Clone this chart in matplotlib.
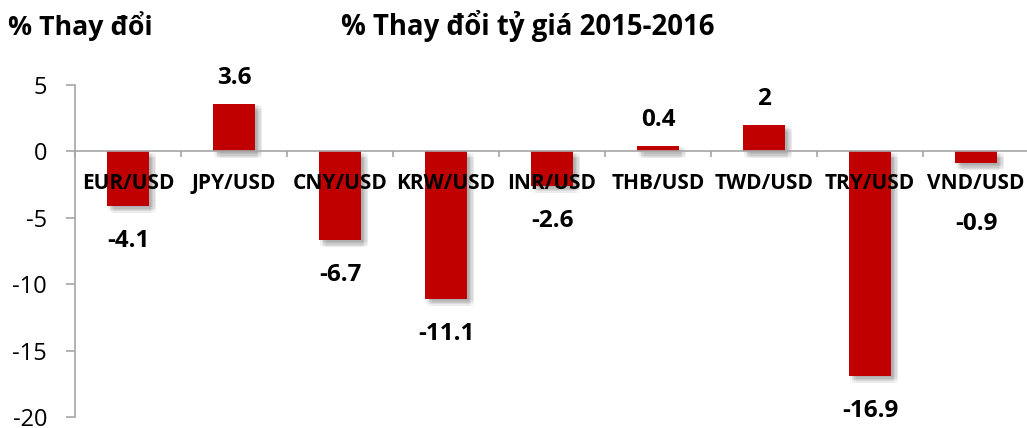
import matplotlib
matplotlib.use("Agg")
import matplotlib.pyplot as plt
import matplotlib.patheffects as pe
from matplotlib.ticker import FixedLocator

categories = ["EUR/USD", "JPY/USD", "CNY/USD", "KRW/USD", "INR/USD",
              "THB/USD", "TWD/USD", "TRY/USD", "VND/USD"]
values = [-4.1, 3.6, -6.7, -11.1, -2.6, 0.4, 2, -16.9, -0.9]
value_labels = ["-4.1", "3.6", "-6.7", "-11.1", "-2.6", "0.4", "2", "-16.9", "-0.9"]
yticks = [5, 0, -5, -10, -15, -20]

plt.rcParams['font.family'] = ['Open Sans', 'DejaVu Sans']

W, H = 1027, 428
fig = plt.figure(figsize=(W/100, H/100), dpi=100)
ax = fig.add_axes([75/W, 1-417/H, 954/W, 332/H])

bar_color = "#C00000"
axis_color = "#A6A6A6"
x = list(range(len(categories)))
bars = ax.bar(x, values, width=0.4, color=bar_color, zorder=2)
shadow = []
for dx in (1, 2, 3, 4, 5):
    for dy in (-1, -2, -3, -4, -5):
        shadow.append(pe.SimplePatchShadow(offset=(dx, dy), shadow_rgbFace="#606060", alpha=0.025))
for b in bars:
    b.set_path_effects(shadow + [pe.Normal()])

ax.set_xlim(-0.5, len(categories) - 0.5)
ax.set_ylim(-20, 5)

for s in ["top", "right"]:
    ax.spines[s].set_visible(False)
ax.spines["bottom"].set_position(("data", 0))
ax.spines["left"].set_color(axis_color)
ax.spines["bottom"].set_color(axis_color)
ax.spines["left"].set_linewidth(1.2)
ax.spines["bottom"].set_linewidth(1.2)

ax.set_yticks(yticks)
ax.set_yticklabels([str(t) for t in yticks], fontsize=17)
ax.tick_params(axis="y", direction="out", length=6.5, width=1.2, color=axis_color, pad=13.5)
ax.xaxis.set_major_locator(FixedLocator([i - 0.5 for i in range(len(categories) + 1)]))
ax.set_xticklabels([])
ax.tick_params(axis="x", direction="out", length=4.3, width=1.2, color=axis_color)

# category labels sit just below the zero line
for i, c in enumerate(categories):
    ax.annotate(c, (i, 0), xytext=(0, -38), textcoords="offset pixels",
                ha="center", va="baseline", fontsize=15, fontweight="bold", zorder=3)

for i, (v, lab) in enumerate(zip(values, value_labels)):
    if v >= 0:
        ax.annotate(lab, (i, v), xytext=(0, 20), textcoords="offset pixels",
                    ha="center", va="baseline", fontsize=17.5, fontweight="bold")
    else:
        anchor = v if v < -2 else -2.8
        ax.annotate(lab, (i, anchor), xytext=(0, -41), textcoords="offset pixels",
                    ha="center", va="baseline", fontsize=17.5, fontweight="bold")

fig.text(8/W, 1-35/H, "% Thay đổi", ha="left", va="baseline", fontsize=19.3, fontweight="bold")
fig.text(528/W, 1-35/H, "% Thay đổi tỷ giá 2015-2016", ha="center", va="baseline", fontsize=19.8, fontweight="bold")

fig.savefig("out.png", dpi=100)
